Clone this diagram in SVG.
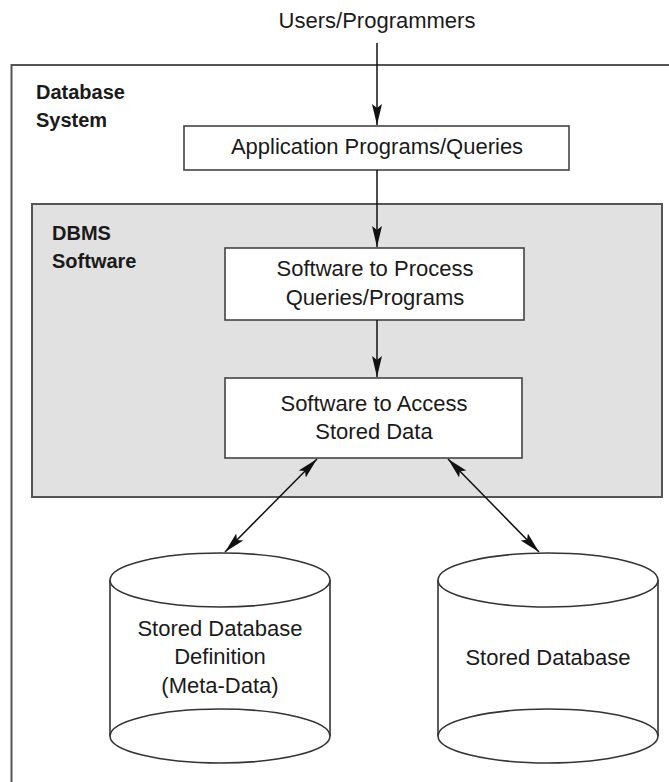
<svg xmlns="http://www.w3.org/2000/svg" width="669" height="782" viewBox="0 0 669 782">
<style>
.t{font-family:"Liberation Sans",Arial,sans-serif;font-size:22px;fill:#1a1a1a;text-anchor:middle}
.b{font-family:"Liberation Sans",Arial,sans-serif;font-size:20px;font-weight:bold;fill:#1a1a1a}
.box{fill:#fff;stroke:#444;stroke-width:1.6}
.cyl{fill:#fff;stroke:#333;stroke-width:1.6}
.ln{stroke:#111;stroke-width:1.5;fill:none}
</style>
<defs>
<marker id="ah" markerUnits="userSpaceOnUse" markerWidth="22" markerHeight="12" refX="21" refY="5" orient="auto-start-reverse" viewBox="0 0 22 10">
<path d="M0,0 L21,5 L0,10 L4,5 z" fill="#111"/>
</marker>
</defs>
<g id="users">
<text class="t" x="377" y="28">Users/Programmers</text>
</g>
<g id="database-system">
<path d="M669,65 H11.5 V782" fill="none" stroke="#555" stroke-width="2"/>
<text class="b" x="36" y="99">Database</text>
<text class="b" x="36" y="127">System</text>
</g>
<g id="application">
<rect class="box" x="184" y="126" width="385" height="44"/>
<text class="t" x="377" y="154">Application Programs/Queries</text>
</g>
<g id="dbms-software">
<rect x="32" y="204" width="630" height="293" fill="#e1e1e1" stroke="#555" stroke-width="2"/>
<text class="b" x="52" y="240">DBMS</text>
<text class="b" x="52" y="268">Software</text>
</g>
<g id="process">
<rect class="box" x="225" y="248" width="299" height="72"/>
<text class="t" x="375" y="276">Software to Process</text>
<text class="t" x="375" y="305">Queries/Programs</text>
</g>
<g id="access">
<rect class="box" x="225" y="378" width="297" height="80"/>
<text class="t" x="374" y="411">Software to Access</text>
<text class="t" x="374" y="439">Stored Data</text>
</g>
<g id="meta-data">
<path class="cyl" d="M110,580 V736 A110,27 0 0 0 330,736 V580"/>
<ellipse class="cyl" cx="220" cy="580" rx="110" ry="27"/>
<path class="cyl" d="M110,736 A110,27 0 0 1 330,736" fill="none"/>
<text class="t" x="220" y="636">Stored Database</text>
<text class="t" x="220" y="664">Definition</text>
<text class="t" x="220" y="693">(Meta-Data)</text>
</g>
<g id="stored-database">
<path class="cyl" d="M438,580 V736 A110,27 0 0 0 658,736 V580"/>
<ellipse class="cyl" cx="548" cy="580" rx="110" ry="27"/>
<path class="cyl" d="M438,736 A110,27 0 0 1 658,736" fill="none"/>
<text class="t" x="548" y="665">Stored Database</text>
</g>
<g id="connectors">
<line class="ln" x1="377" y1="43" x2="377" y2="125" marker-end="url(#ah)"/>
<line class="ln" x1="377" y1="170" x2="377" y2="247" marker-end="url(#ah)"/>
<line class="ln" x1="377" y1="320" x2="377" y2="377" marker-end="url(#ah)"/>
<line class="ln" x1="317" y1="459" x2="225" y2="552" marker-start="url(#ah)" marker-end="url(#ah)"/>
<line class="ln" x1="448" y1="459" x2="539" y2="552" marker-start="url(#ah)" marker-end="url(#ah)"/>
</g>
</svg>
